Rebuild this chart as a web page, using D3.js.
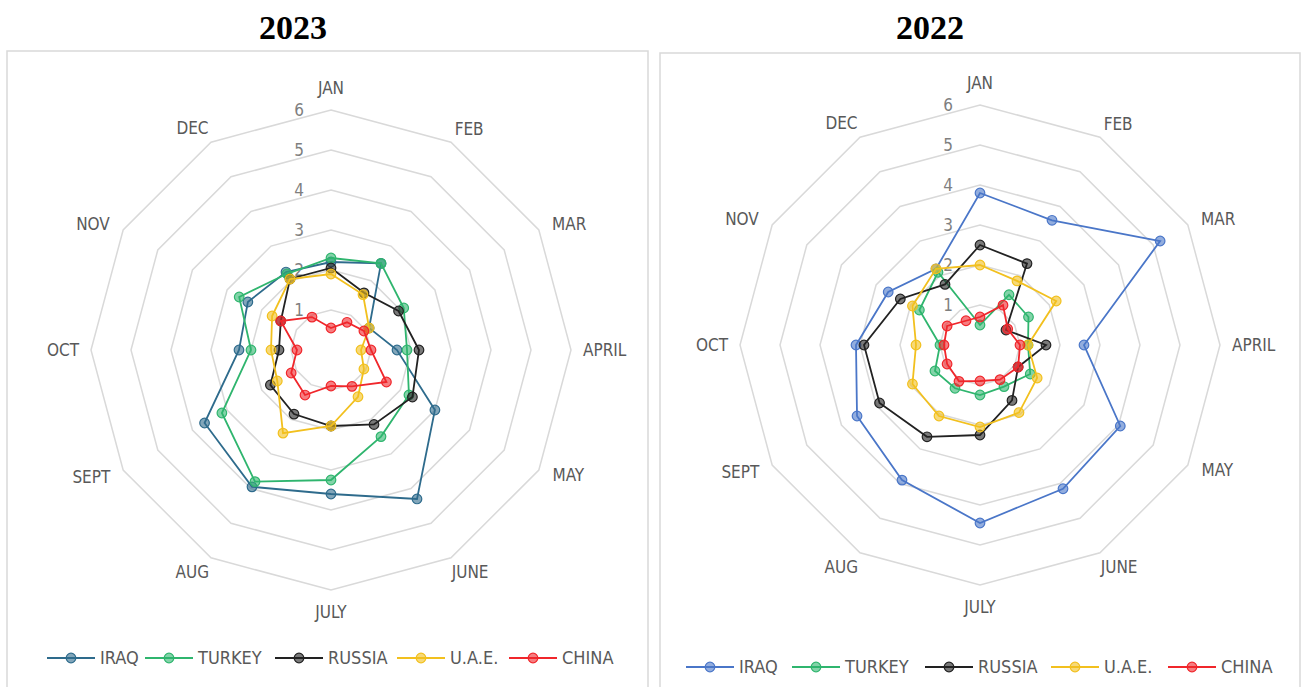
<!DOCTYPE html>
<html>
<head>
<meta charset="utf-8">
<script src="https://cdn.jsdelivr.net/npm/d3@7"></script>
<style>
	body { margin: 0; background: #fff; }
	svg { display: block; }
	.ring { fill: none; stroke: #d9d9d9; stroke-width: 1.5; }
	.tick { fill: #7f7f7f; font-family: "Liberation Sans Narrow", "DejaVu Sans Condensed", sans-serif; font-size: 17px; }
	.cat { fill: #595959; font-family: "Liberation Sans Narrow", "DejaVu Sans Condensed", sans-serif; font-size: 17px; }
	.legend text { fill: #595959; font-family: "Liberation Sans Narrow", "DejaVu Sans Condensed", sans-serif; font-size: 18px; }
	.title { font-family: "Liberation Serif", serif; font-weight: bold; font-size: 34px; fill: #000; }
	.panel { fill: #fff; stroke: #d9d9d9; stroke-width: 1.5; }
</style>
</head>
<body>
<div id="chart"></div>
<script>

// categories and series
var months = ["JAN", "FEB", "MAR", "APRIL", "MAY", "JUNE", "JULY", "AUG", "SEPT", "OCT", "NOV", "DEC"];
var countries = ["IRAQ", "TURKEY", "RUSSIA", "U.A.E.", "CHINA"];
var ticks = [1, 2, 3, 4, 5, 6];

// 2023 values
var iraq2023   = [2.2, 2.5, 1.1, 1.65, 3.0, 4.3, 3.6, 3.95, 3.65, 2.3, 2.4, 2.25];
var turkey2023 = [2.3, 2.5, 2.1, 1.9, 2.25, 2.5, 3.25, 3.8, 3.15, 2.0, 2.65, 2.2];
var russia2023 = [2.05, 1.65, 1.95, 2.2, 2.35, 2.15, 1.9, 1.85, 1.75, 1.3, 1.45, 2.05];
var uae2023    = [1.9, 1.6, 1.1, 0.75, 0.95, 1.35, 1.9, 2.4, 1.55, 1.5, 1.7, 2.05];
var china2023  = [0.55, 0.8, 0.95, 1.0, 1.6, 1.05, 0.9, 1.3, 1.15, 0.85, 1.45, 0.95];

// 2022 values
var iraq2022   = [3.8, 3.6, 5.2, 2.6, 4.05, 4.15, 4.45, 3.9, 3.55, 3.1, 2.65, 2.2];
var turkey2022 = [0.5, 1.45, 1.4, 1.2, 1.45, 1.2, 1.25, 1.25, 1.3, 1.0, 1.75, 2.1];
var russia2022 = [2.5, 2.35, 0.75, 1.65, 1.1, 1.6, 2.25, 2.65, 2.9, 2.9, 2.3, 1.75];
var uae2022    = [2.0, 1.85, 2.2, 1.2, 1.65, 1.95, 2.05, 2.05, 1.95, 1.6, 1.95, 2.2];
var china2022  = [0.7, 1.15, 0.8, 1.0, 1.1, 1.0, 0.9, 1.05, 0.95, 0.9, 0.95, 0.7];

var colors2023 = ["#2e6b8c", "#2fb56e", "#222222", "#f2c01e", "#f0262b"];
var colors2022 = ["#4a76c8", "#2fb56e", "#222222", "#f2c01e", "#f0262b"];

var svg = d3.select("#chart").append("svg")
	.attr("width", 1301)
	.attr("height", 687);

var Radar = function(opts) {

	var g, r, angle, line;

	// panel frame
	svg.append("rect")
	.attr("class", "panel")
	.attr("x", opts.box[0])
	.attr("y", opts.box[1])
	.attr("width", opts.box[2])
	.attr("height", opts.box[3]);

	svg.append("text")
	.attr("class", "title")
	.attr("x", opts.titleX)
	.attr("y", 39)
	.attr("text-anchor", "middle")
	.text(opts.title);

	g = svg.append("g")
	.attr("transform", "translate(" + opts.cx + "," + opts.cy + ")");

	r = d3.scaleLinear().domain([0, 6]).range([0, 240]);
	angle = function(i) { return i * 2 * Math.PI / months.length; };

	line = d3.lineRadial()
	.angle(function(d, i) { return angle(i); })
	.radius(function(d) { return r(d); })
	.curve(d3.curveLinearClosed);

	// grid rings
	g.selectAll(".ring")
	.data(ticks)
	.enter()
	.append("path")
	.attr("class", "ring")
	.attr("d", function(t) { return line(months.map(function() { return t; })); });

	// value labels
	g.selectAll(".tick")
	.data(ticks)
	.enter()
	.append("text")
	.attr("class", "tick")
	.attr("x", -27)
	.attr("y", function(t) { return -r(t); })
	.attr("dy", "0.35em")
	.attr("text-anchor", "end")
	.text(function(t) { return t; });

	// month labels, diagonal ones nudged toward the horizontal like excel does
	g.selectAll(".cat")
	.data(months)
	.enter()
	.append("text")
	.attr("class", "cat")
	.attr("text-anchor", "middle")
	.attr("dy", "0.35em")
	.text(function(d) { return d; })
	.each(function(d, i) {
		var a = angle(i),
			s = Math.sin(a), c = Math.cos(a),
			w = this.getComputedTextLength(),
			rr = 262 + Math.abs(s) * Math.max(0, w / 2 - 10),
			x = rr * s,
			y = -rr * c;
		if (Math.abs(s) > 0.1 && Math.abs(c) > 0.1) {
			x += (s > 0 ? 6 : -6);
			y += (c > 0 ? 8 : -8);
		}
		d3.select(this).attr("x", x).attr("y", y);
	});

	// series
	opts.data.forEach(function(values, k) {
		var s = g.append("g").attr("class", "series");
		s.append("path")
		.attr("d", line(values))
		.attr("fill", "none")
		.attr("stroke", opts.colors[k])
		.attr("stroke-width", 1.8);

		s.selectAll("circle")
		.data(values)
		.enter()
		.append("circle")
		.attr("cx", function(d, i) { return r(d) * Math.sin(angle(i)); })
		.attr("cy", function(d, i) { return -r(d) * Math.cos(angle(i)); })
		.attr("r", 4.8)
		.attr("fill", opts.colors[k])
		.attr("fill-opacity", 0.6)
		.attr("stroke", opts.colors[k])
		.attr("stroke-width", 1.2);
	});

	// legend
	var lg = svg.append("g")
	.attr("class", "legend")
	.attr("transform", "translate(0," + opts.legendY + ")");

	countries.forEach(function(name, k) {
		var x0 = opts.legendX[k];
		lg.append("line")
		.attr("x1", x0).attr("x2", x0 + 48)
		.attr("y1", 0).attr("y2", 0)
		.attr("stroke", opts.colors[k])
		.attr("stroke-width", 1.8);
		lg.append("circle")
		.attr("cx", x0 + 24).attr("cy", 0)
		.attr("r", 4.8)
		.attr("fill", opts.colors[k])
		.attr("fill-opacity", 0.6)
		.attr("stroke", opts.colors[k])
		.attr("stroke-width", 1.2);
		lg.append("text")
		.attr("x", x0 + 53)
		.attr("y", 0)
		.attr("dy", "0.35em")
		.text(name);
	});

};

Radar({
	title: "2023", titleX: 293,
	box: [7, 51, 641, 650],
	cx: 331, cy: 350,
	colors: colors2023,
	data: [iraq2023, turkey2023, russia2023, uae2023, china2023],
	legendY: 658,
	legendX: [47, 145, 275, 397, 509]
});

Radar({
	title: "2022", titleX: 930,
	box: [660, 53, 640, 650],
	cx: 980, cy: 345,
	colors: colors2022,
	data: [iraq2022, turkey2022, russia2022, uae2022, china2022],
	legendY: 667,
	legendX: [686, 792, 925, 1051, 1168]
});

</script>
</body>
</html>
